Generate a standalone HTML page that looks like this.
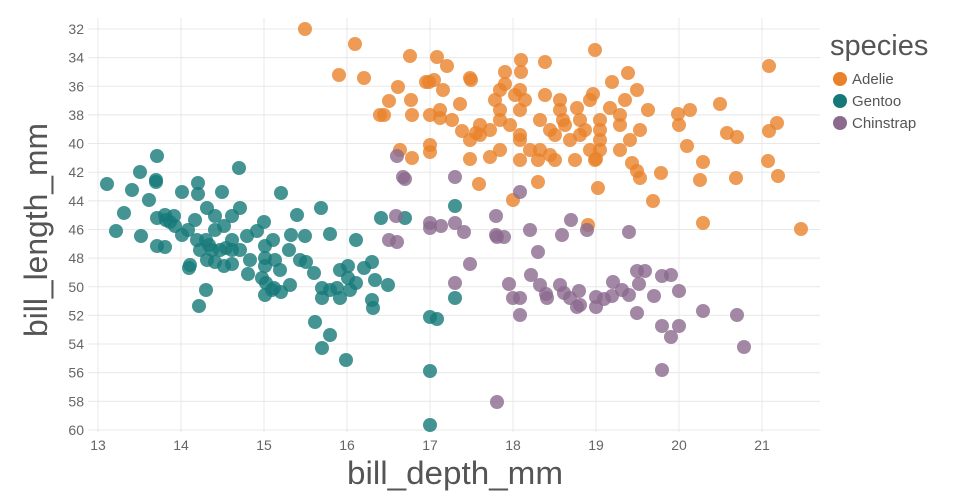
<!DOCTYPE html>
<html><head><meta charset="utf-8"><style>
body{margin:0;background:#fff;}
svg{display:block;font-family:"Liberation Sans",sans-serif;}
</style></head><body>
<svg id="s" width="960" height="500" xmlns="http://www.w3.org/2000/svg">
<g id="grid" stroke="#e8e8e8" stroke-width="1"></g>
<g id="ticks" fill="#666" font-size="14"></g>
<g id="pts"></g>
<text x="455" y="484" font-size="32" fill="#555" text-anchor="middle" textLength="216" lengthAdjust="spacingAndGlyphs">bill_depth_mm</text>
<text transform="translate(47,230) rotate(-90)" font-size="32" fill="#555" text-anchor="middle" textLength="214" lengthAdjust="spacingAndGlyphs">bill_length_mm</text>
<text x="830" y="55" font-size="29" fill="#555">species</text>
<circle cx="840" cy="79" r="7" fill="#e8822b"/><text x="852" y="84" font-size="15" fill="#555">Adelie</text>
<circle cx="840" cy="101" r="7" fill="#167979"/><text x="852" y="106" font-size="15" fill="#555">Gentoo</text>
<circle cx="840" cy="123" r="7" fill="#8b6a8e"/><text x="852" y="128" font-size="15" fill="#555">Chinstrap</text>
</svg>
<script>
var NS="http://www.w3.org/2000/svg";
function el(t,a,p){var e=document.createElementNS(NS,t);for(var k in a)e.setAttribute(k,a[k]);p.appendChild(e);return e;}
var g=document.getElementById("grid"),tk=document.getElementById("ticks");
for(var i=13;i<=21;i++){var x=98+(i-13)*83;el("line",{x1:x,x2:x,y1:18,y2:432},g);var t=el("text",{x:x,y:450,"text-anchor":"middle"},tk);t.textContent=i;}
for(var v=32;v<=60;v+=2){var y=29+(v-32)*14.32;el("line",{x1:88,x2:820,y1:y,y2:y},g);var t=el("text",{x:84,y:y+5,"text-anchor":"end"},tk);t.textContent=v;}
var A=[305,29,355,44,339,75,364,78,410,56,437,57,447,66,398,87,426,82,434,80,429,82,443,90,470,78,471,80,505,72,505,84,521,60,521,72,545,62,595,50,628,73,637,90,612,82,593,94,545,95,560,100,577,108,610,108,648,110,690,110,678,114,720,104,769,66,777,123,769,131,727,133,737,137,679,125,687,146,703,162,653,201,703,223,736,178,801,229,768,161,778,176,661,173,637,171,632,163,598,188,596,159,590,150,570,140,555,135,555,160,538,160,538,182,513,200,479,184,470,159,490,157,500,150,520,160,530,150,540,150,550,130,565,125,580,135,600,140,620,125,640,130,600,120,580,120,560,110,520,110,500,110,490,130,480,135,470,140,462,131,452,120,440,118,430,145,430,152,412,158,412,115,411,100,389,101,384,115,380,115,400,150,430,115,440,110,520,90,525,100,510,125,520,135,540,120,585,130,590,100,563,120,500,90,495,100,500,120,515,95,625,100,588,225,600,130,575,160,480,125,460,104,476,133,520,140,550,155,600,150,620,115,595,160,640,178,700,180,630,140,620,150];
var G=[107,184,116,231,124,213,132,190,140,172,141,236,149,200,157,156,156,180,156,182,157,218,157,246,166,220,165,247,175,226,174,216,182,192,188,230,190,265,189,268,198,183,198,194,197,240,199,306,207,208,207,260,206,290,215,216,215,230,215,262,222,192,224,226,224,266,232,216,232,240,232,264,239,168,240,208,247,236,248,274,257,231,264,222,265,246,265,258,266,283,265,295,273,240,274,288,281,193,281,292,289,250,291,235,297,215,305,236,314,273,321,208,322,288,322,298,315,322,322,348,330,234,330,335,337,288,340,298,348,266,348,278,346,360,356,240,364,268,372,262,372,300,373,308,381,218,388,285,405,218,430,317,437,319,430,371,430,425,455,206,455,298,206,240,220,250,250,260,275,260,290,285,340,270,350,290,356,283,240,250,182,235,195,220,170,222,165,215,212,250,262,278,280,270,306,262,330,290,226,248,232,250,265,266,200,250,209,245,272,290,375,280,300,260];
var C=[397,156,403,177,405,179,396,216,389,240,397,242,430,223,430,228,441,226,455,177,455,223,464,232,470,264,455,283,496,216,496,235,497,237,504,237,509,284,513,298,520,192,520,315,531,275,530,230,538,252,546,294,562,235,571,220,564,293,577,307,579,291,587,230,596,297,596,307,604,299,613,282,629,295,629,232,637,313,637,271,645,271,654,296,662,276,671,275,679,291,662,326,679,326,671,337,703,311,737,315,744,347,662,370,497,402,570,298,560,285,547,298,580,305,612,296,622,290,639,284,520,298,540,285];
var P=document.getElementById("pts");
[[A,"#e8822b"],[G,"#167979"],[C,"#8b6a8e"]].forEach(function(s){for(var i=0;i<s[0].length;i+=2)el("circle",{cx:s[0][i],cy:s[0][i+1],r:7,fill:s[1],"fill-opacity":0.8},P);});
</script>
</body></html>
